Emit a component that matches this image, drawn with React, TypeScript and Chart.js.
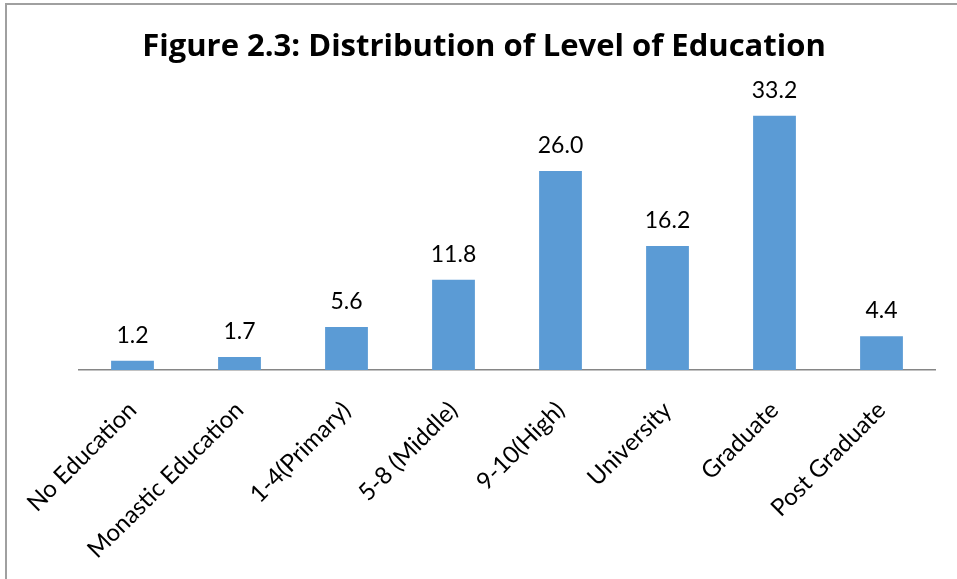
import React, { useEffect, useRef } from "react";
import { Chart, registerables } from "chart.js";

Chart.register(...registerables);

const categories = [
  "No Education",
  "Monastic Education",
  "1-4(Primary)",
  "5-8 (Middle)",
  "9-10(High)",
  "University",
  "Graduate",
  "Post Graduate",
];
const values = [1.2, 1.7, 5.6, 11.8, 26.0, 16.2, 33.2, 4.4];
const valueLabels = ["1.2", "1.7", "5.6", "11.8", "26.0", "16.2", "33.2", "4.4"];
const titleText = "Figure 2.3: Distribution of Level of Education";

const FONT = "Lato, 'Open Sans', sans-serif";
const TITLE_FONT = "'Open Sans', Lato, sans-serif";

const dataLabelPlugin = {
  id: "dataLabels",
  afterDatasetsDraw(chart: any) {
    const ctx = chart.ctx;
    const meta = chart.getDatasetMeta(0);
    ctx.save();
    ctx.font = `23px ${FONT}`;
    ctx.fillStyle = "#000";
    ctx.textAlign = "center";
    ctx.textBaseline = "alphabetic";
    meta.data.forEach((bar: any, i: number) => {
      ctx.fillText(valueLabels[i], bar.x, bar.y - 18);
    });
    ctx.restore();
  },
};

export default function App() {
  const ref = useRef<HTMLCanvasElement>(null);
  useEffect(() => {
    const c = new Chart(ref.current!, {
      type: "bar",
      data: {
        labels: categories,
        datasets: [
          {
            data: values,
            backgroundColor: "#5B9BD5",
            barPercentage: 0.4,
            categoryPercentage: 1,
          },
        ],
      },
      options: {
        animation: false,
        responsive: false,
        maintainAspectRatio: false,
        layout: { padding: { top: 29, left: 33, right: 22, bottom: 0 } },
        plugins: {
          legend: { display: false },
          tooltip: { enabled: false },
          title: {
            display: true,
            text: titleText,
            color: "#000",
            font: { family: TITLE_FONT, size: 31, weight: "bold" },
            padding: { top: 0, bottom: 35.8 },
          },
        },
        scales: {
          x: {
            grid: { display: false, drawTicks: false },
            border: { display: true, color: "#868686", width: 1.5 },
            ticks: {
              color: "#000",
              font: { family: FONT, size: 24 },
              minRotation: 45,
              maxRotation: 45,
              padding: 26,
            },
            afterFit: (scale: any) => {
              scale.height = 209;
            },
          },
          y: {
            display: true,
            min: 0,
            max: 35,
            grid: { display: false, drawTicks: false },
            border: { display: false },
            ticks: { display: false },
            afterFit: (scale: any) => {
              scale.width = 46;
            },
          },
        },
      },
      plugins: [dataLabelPlugin],
    });
    return () => c.destroy();
  }, []);
  return (
    <div style={{ position: "absolute", left: 0, top: 0, width: 957, height: 579, background: "#fff" }}>
      <div
        style={{
          position: "absolute",
          left: 5,
          top: 3,
          width: 960,
          height: 600,
          borderLeft: "2px solid #a0a0a0",
          borderTop: "2px solid #a0a0a0",
        }}
      />
      <canvas ref={ref} width={957} height={579} style={{ position: "absolute", left: 0, top: 0 }} />
    </div>
  );
}
